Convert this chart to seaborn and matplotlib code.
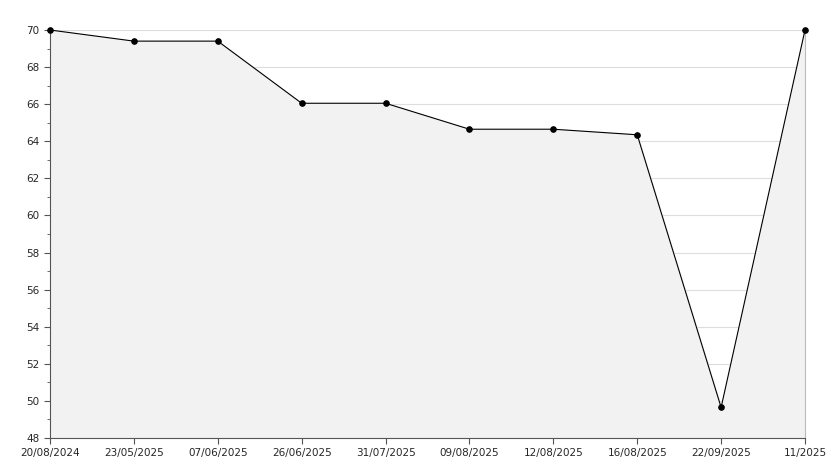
import numpy as np
import pandas as pd
import matplotlib
matplotlib.use("Agg")
import matplotlib.pyplot as plt
import seaborn as sns

dates = ['20/08/2024', '23/05/2025', '07/06/2025', '26/06/2025', '31/07/2025',
         '09/08/2025', '12/08/2025', '16/08/2025', '22/09/2025', '11/2025']
values = [70.0, 69.4, 69.4, 66.05, 66.05, 64.65, 64.65, 64.35, 49.65, 70.0]

df = pd.DataFrame({'x': np.arange(len(dates)), 'y': values})

sns.set_style("white")
plt.rcParams['font.family'] = ['DejaVu Sans']

fig = plt.figure(figsize=(8.34, 4.68), dpi=100)
ax = fig.add_axes([50 / 834, 30 / 468, 755 / 834, 408 / 468])

ax.fill_between(df['x'], df['y'], 48, color='#f2f2f2', zorder=1)
sns.lineplot(data=df, x='x', y='y', color='black', linewidth=0.8,
             marker='o', markersize=4, markeredgecolor='black', ax=ax,
             zorder=3, clip_on=False)

ax.set_xlim(0, len(dates) - 1)
ax.set_ylim(48, 70)
ax.set_yticks(np.arange(48, 71, 2))
ax.set_yticks(np.arange(49, 70, 2), minor=True)
ax.set_xticks(df['x'])
ax.set_xticklabels(dates)
ax.grid(axis='y', color='#dddddd', linewidth=0.8, zorder=0)
ax.set_axisbelow(True)
ax.tick_params(axis='both', labelsize=7.5, length=4, color='#555555', direction='out',
               left=True, bottom=True)
ax.tick_params(axis='y', which='minor', length=2, left=True, color='#555555')
ax.set_xlabel('')
ax.set_ylabel('')
ax.spines['top'].set_visible(False)
ax.spines['right'].set_color('#bbbbbb')
ax.spines['right'].set_linewidth(0.8)
for s in ['left', 'bottom']:
    ax.spines[s].set_color('#555555')
    ax.spines[s].set_linewidth(0.8)

fig.savefig('out.png', dpi=100)
